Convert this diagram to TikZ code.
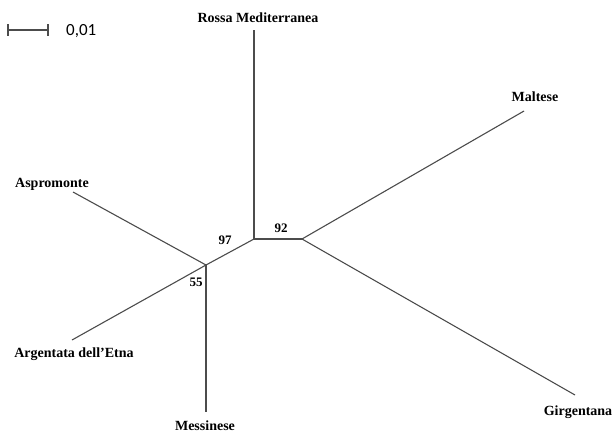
\documentclass[tikz,border=0pt]{standalone}
\usepackage{fontspec}
\setmainfont{Liberation Serif}
\newfontfamily\escalafont{Carlito}
\begin{document}
\begin{tikzpicture}[x=1pt,y=-1pt,
    rama/.style={draw=black!70,line width=1.1pt},
    hoja/.style={font=\fontsize{14}{16}\selectfont\bfseries,inner sep=0pt},
    soporte/.style={font=\fontsize{13}{15}\selectfont\bfseries,inner sep=0pt}]
    \useasboundingbox (0,0) rectangle (615,437);
    % Escala
    \coordinate (e1) at (8,30);
    \coordinate (e2) at (48,30);
    \draw[rama] (e1) -- (e2);
    \draw[rama] ([yshift=6pt]e1) -- ([yshift=-6pt]e1);
    \draw[rama] ([yshift=6pt]e2) -- ([yshift=-6pt]e2);
    \node[font=\escalafont\fontsize{17}{19}\selectfont,inner sep=0pt,anchor=west] (escala) at (66,31) {0,01};
    % Nodos internos
    \coordinate (n97) at (254,239);
    \coordinate (n92) at (302,239);
    \coordinate (n55) at (206,265);
    % Extremos de las ramas
    \coordinate (rossa) at (254,30);
    \coordinate (maltese) at (524,111);
    \coordinate (girg) at (575,395);
    \coordinate (aspro) at (73,192);
    \coordinate (argen) at (72,340);
    \coordinate (messi) at (206,412);
    % Ramas
    \draw[rama] (n97) -- (rossa);
    \draw[rama] (n97) -- (n92);
    \draw[rama] (n92) -- (maltese);
    \draw[rama] (n92) -- (girg);
    \draw[rama] (n97) -- (n55);
    \draw[rama] (n55) -- (aspro);
    \draw[rama] (n55) -- (argen);
    \draw[rama] (n55) -- (messi);
    % Nombres
    \node[hoja] (lrossa) at (258,18) {Rossa Mediterranea};
    \node[hoja] (lmaltese) at (535,97) {Maltese};
    \node[hoja] (lgirg) at (578,412) {Girgentana};
    \node[hoja] (laspro) at (52,184) {Aspromonte};
    \node[hoja] (largen) at (74,354) {Argentata dell'Etna};
    \node[hoja] (lmessi) at (205,426) {Messinese};
    % Soporte
    \node[soporte] (s97) at (225,240) {97};
    \node[soporte] (s92) at (281,228) {92};
    \node[soporte] (s55) at (196,282) {55};
\end{tikzpicture}
\end{document}
